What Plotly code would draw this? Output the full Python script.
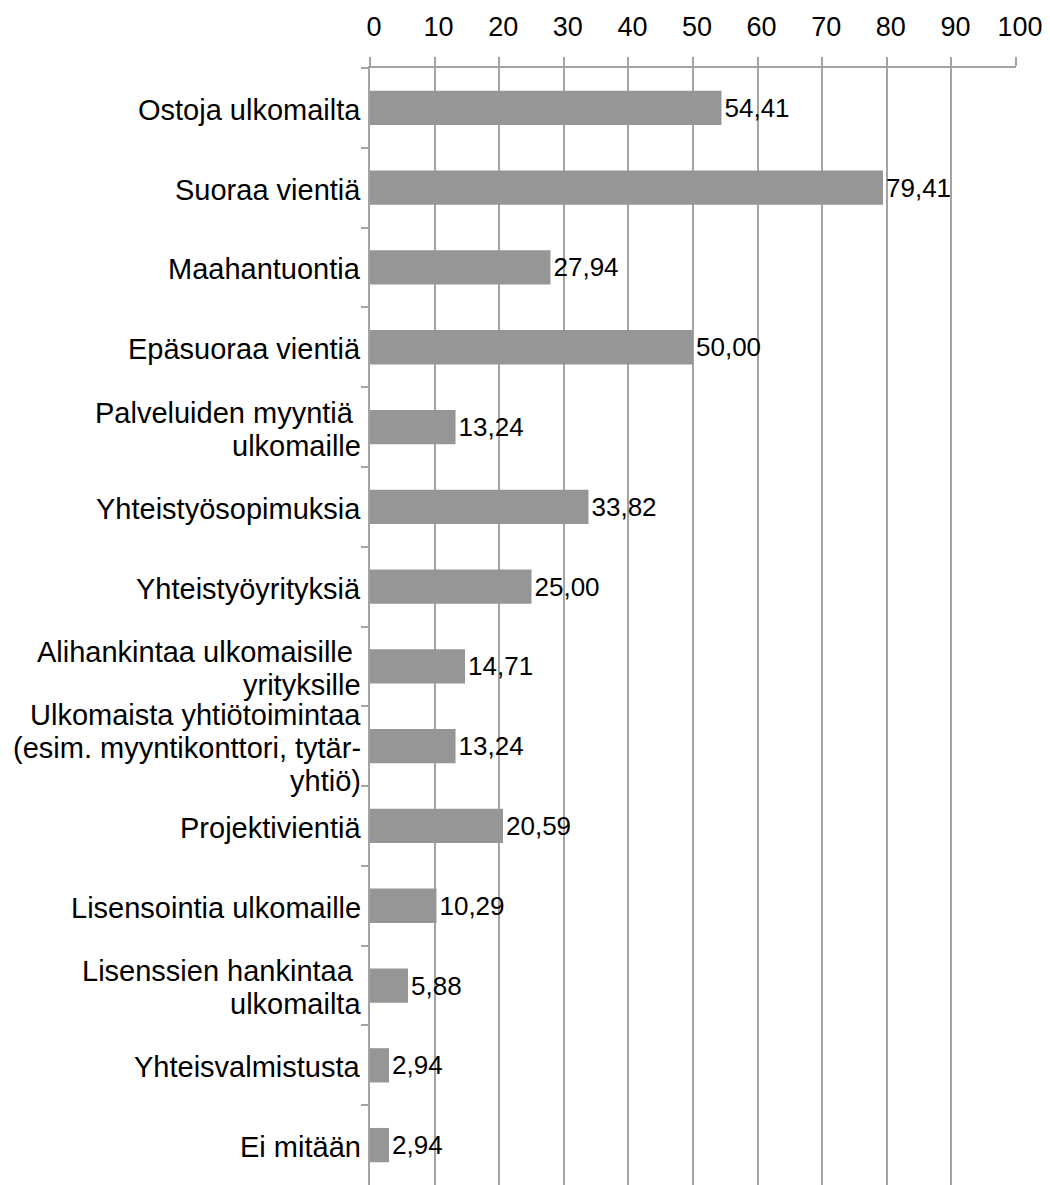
import plotly.graph_objects as go

categories = [
    "Ostoja ulkomailta",
    "Suoraa vientiä",
    "Maahantuontia",
    "Epäsuoraa vientiä",
    "Palveluiden myyntiä\u00a0<br>ulkomaille",
    "Yhteistyösopimuksia",
    "Yhteistyöyrityksiä",
    "Alihankintaa ulkomaisille\u00a0<br>yrityksille",
    "Ulkomaista yhtiötoimintaa<br>(esim. myyntikonttori, tytär-<br>yhtiö)",
    "Projektivientiä",
    "Lisensointia ulkomaille",
    "Lisenssien hankintaa\u00a0<br>ulkomailta",
    "Yhteisvalmistusta",
    "Ei mitään",
]
values = [54.41, 79.41, 27.94, 50.00, 13.24, 33.82, 25.00, 14.71, 13.24, 20.59, 10.29, 5.88, 2.94, 2.94]
x_ticks = [0, 10, 20, 30, 40, 50, 60, 70, 80, 90, 100]

labels = [f"{v:.2f}".replace(".", ",") for v in values]

FONT = "Liberation Sans, Arial, sans-serif"
GRID = "#a3a3a3"
LINE_H = 33

fig = go.Figure(
    go.Bar(
        y=categories,
        x=values,
        orientation="h",
        marker=dict(color="#969696", line=dict(width=0)),
        width=0.43,
        text=labels,
        textposition="outside",
        textfont=dict(family=FONT, size=26, color="black"),
        cliponaxis=False,
    )
)

# category labels drawn as annotations so that line spacing matches the original
annotations = []
for cat in categories:
    lines = cat.split("<br>")
    n = len(lines)
    for i, ln in enumerate(lines):
        annotations.append(dict(
            x=0, xref="paper", xanchor="right", xshift=-7,
            y=cat, yref="y", yanchor="middle",
            yshift=((n - 1) / 2 - i) * LINE_H - 2,
            text=ln, showarrow=False,
            font=dict(family=FONT, size=29, color="black"),
        ))

fig.update_layout(
    width=1050,
    height=1185,
    margin=dict(l=370, r=34, t=68, b=0, pad=0),
    plot_bgcolor="white",
    paper_bgcolor="white",
    showlegend=False,
    font=dict(family=FONT, color="black"),
    annotations=annotations,
)

fig.update_xaxes(
    side="top",
    range=[0, 100],
    tickvals=x_ticks,
    ticktext=[str(t) for t in x_ticks],
    tickfont=dict(size=27, color="black"),
    ticks="outside",
    ticklen=9,
    tickwidth=1.5,
    tickcolor=GRID,
    showgrid=True,
    gridcolor=GRID,
    gridwidth=1.5,
    showline=True,
    linecolor=GRID,
    linewidth=1.5,
    zeroline=False,
    ticklabelstandoff=10,
    ticklabelshift=4,
    fixedrange=True,
)

fig.update_yaxes(
    type="category",
    categoryorder="array",
    categoryarray=categories,
    autorange="reversed",
    showticklabels=False,
    ticks="outside",
    tickson="boundaries",
    ticklen=7,
    tickwidth=1.5,
    tickcolor=GRID,
    showgrid=False,
    showline=True,
    linecolor=GRID,
    linewidth=1.5,
    fixedrange=True,
)

fig.write_html(
    "out.html",
    config={"displayModeBar": False},
    post_script="document.body.style.margin='0';",
)
